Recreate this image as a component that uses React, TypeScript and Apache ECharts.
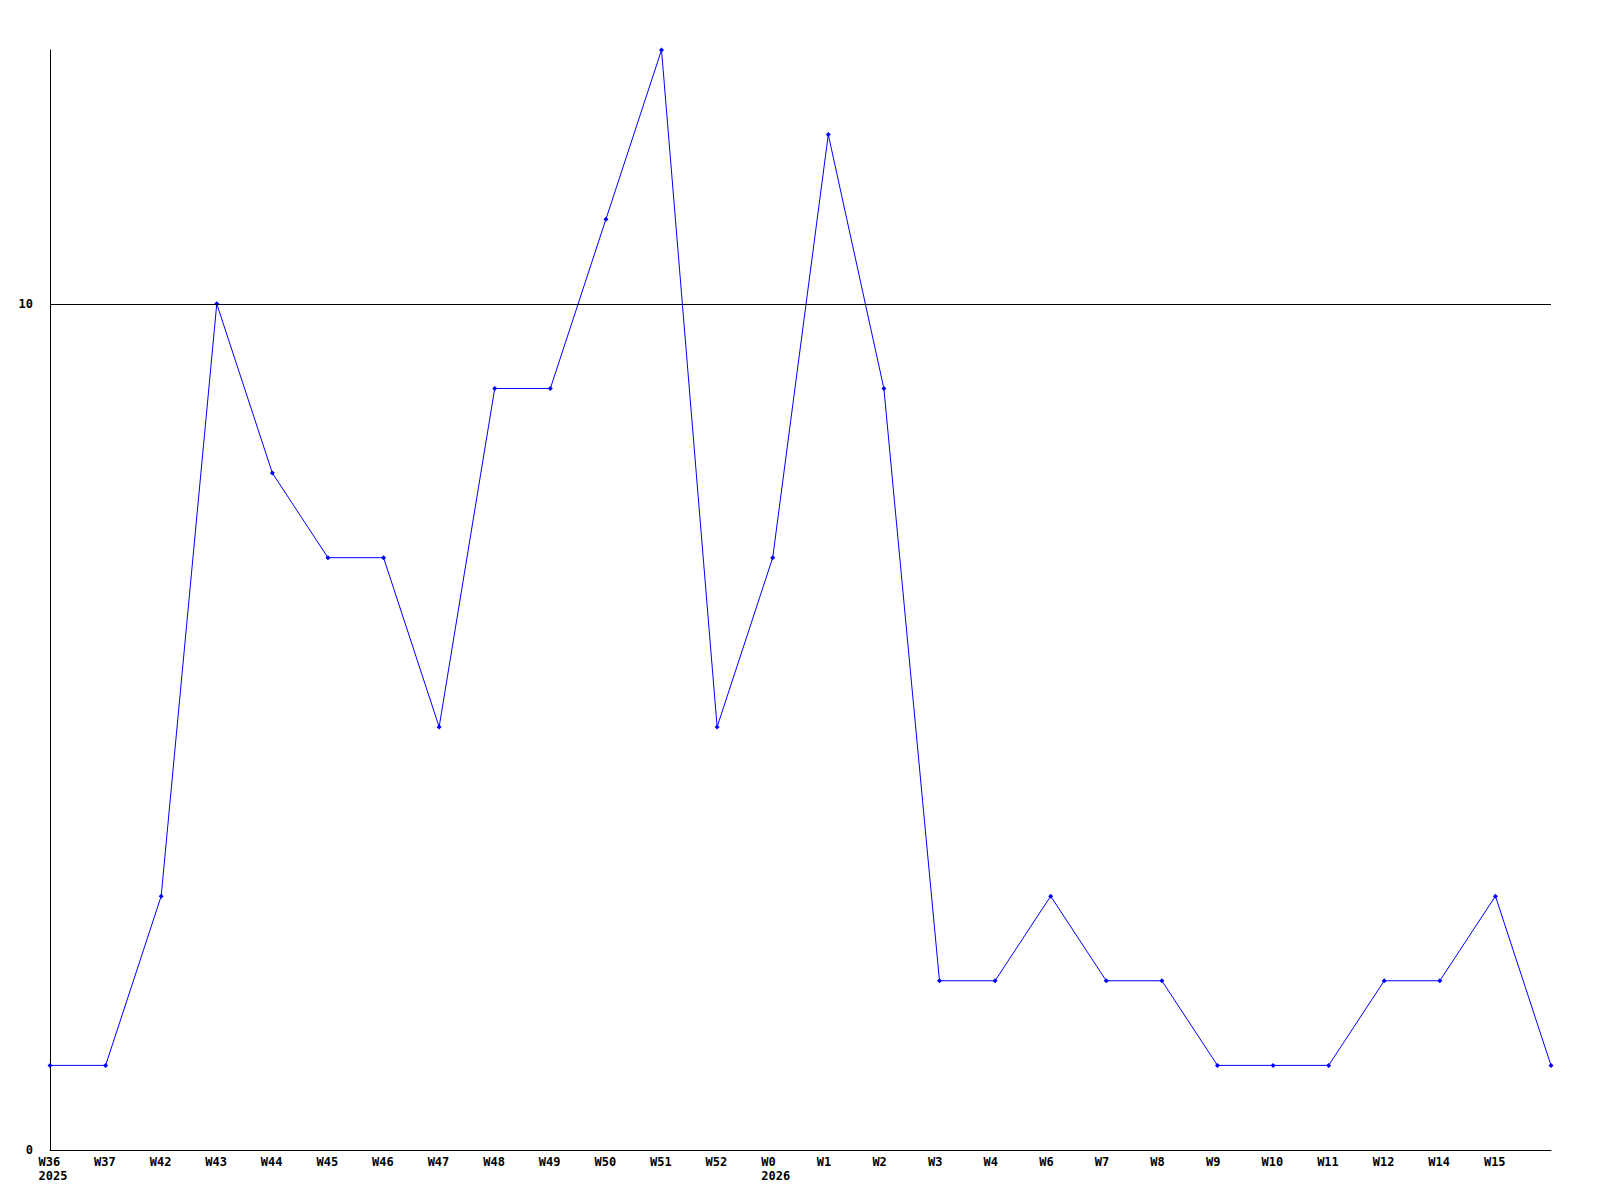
import React, { useEffect, useRef } from "react";
import * as echarts from "echarts";

const weeks = ["W36", "W37", "W42", "W43", "W44", "W45", "W46", "W47", "W48", "W49", "W50", "W51", "W52", "W0", "W1", "W2", "W3", "W4", "W6", "W7", "W8", "W9", "W10", "W11", "W12", "W14", "W15", ""];
const years = ["2025", "", "", "", "", "", "", "", "", "", "", "", "", "2026", "", "", "", "", "", "", "", "", "", "", "", "", "", ""];
const values = [1, 1, 3, 10, 8, 7, 7, 5, 9, 9, 11, 13, 5, 7, 12, 9, 2, 2, 3, 2, 2, 1, 1, 1, 2, 2, 3, 1];
const yMax = 13;
const refLine = 10;

export default function App() {
  const ref = useRef<HTMLDivElement>(null);
  useEffect(() => {
    const chart = echarts.init(ref.current!, null, { renderer: "svg" });
    const font = { fontFamily: "DejaVu Sans Mono", fontWeight: "bold" as const, fontSize: 12, color: "#000" };
    chart.setOption({
      animation: false,
      backgroundColor: "#fff",
      grid: { left: 50, right: 49, top: 50, bottom: 50, containLabel: false },
      xAxis: {
        type: "category",
        boundaryGap: false,
        data: weeks,
        axisLine: { lineStyle: { color: "#000", width: 1 } },
        axisTick: { show: false },
        axisLabel: {
          ...font,
          interval: 0,
          margin: 5,
          lineHeight: 14,
          verticalAlign: "top",
          formatter: (v: string, i: number) =>
            years[i] ? `{a|${v}}\n{a|${years[i]}}` : `{a|${v}}`,
          rich: { a: { ...font, width: 23, align: "left", lineHeight: 14 } },
        },
        splitLine: { show: false },
      },
      yAxis: {
        type: "value",
        min: 0,
        max: yMax,
        interval: 10,
        axisLine: { show: true, lineStyle: { color: "#000", width: 1 } },
        axisTick: { show: false },
        axisLabel: { ...font, margin: 17, showMaxLabel: false },
        splitLine: { show: false },
      },
      series: [
        {
          type: "line",
          data: values,
          symbol: "diamond",
          symbolSize: 5,
          showSymbol: true,
          lineStyle: { color: "#0000ff", width: 1 },
          itemStyle: { color: "#0000ff" },
          markLine: {
            silent: true,
            symbol: "none",
            label: { show: false },
            lineStyle: { color: "#000", width: 1, type: "solid" },
            data: [{ yAxis: refLine }],
          },
        },
      ],
    });
    return () => chart.dispose();
  }, []);
  return <div ref={ref} style={{ position: "absolute", left: 0, top: 0, width: 1600, height: 1200 }} />;
}
